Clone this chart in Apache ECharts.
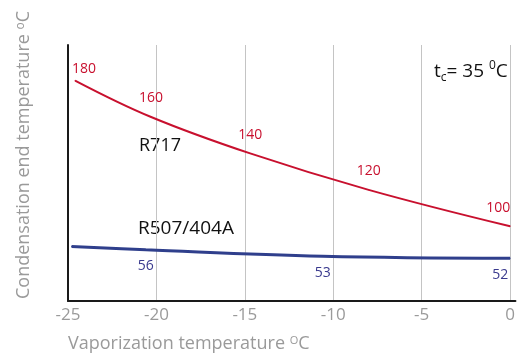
<!DOCTYPE html>
<html>
<head>
<meta charset="utf-8">
<script src="https://cdn.jsdelivr.net/npm/echarts@6/dist/echarts.min.js"></script>
<style>
  html, body { margin: 0; padding: 0; background: #fff; }
  #chart { width: 518px; height: 356px; }
</style>
</head>
<body>
<div id="chart"></div>
<script>
// Vaporization temperature axis (°C); the axis line runs a little past 0
const xTicks = [-25, -20, -15, -10, -5, 0];
const xAxisEnd = 0.3;

// R717 (ammonia): condensation end temperature along the curve
const r717X = [-24.6, -20.3, -14.7, -8.0, 0];
const r717Values = [180, 160, 140, 120, 100];

// R507/404A
const r507X = [-24.8, -20.6, -10.6, 0];
const r507Values = [57.6, 56, 53, 52];
const r507Labelled = [false, true, true, true];

const RED = '#c8102e';
const BLUE = '#2f3f8c';
const BLUE_TEXT = '#3a3a8e';
const GRAY = '#9a9a9a';
const FONT = '"Open Sans", "Noto Sans", sans-serif';

const redData = r717X.map((x, i) => {
  const item = { value: [x, r717Values[i]] };
  if (i === 0) item.label = { show: true, position: 'top', distance: 4, offset: [9, 0] };
  if (i === r717X.length - 1) item.label = { show: true, position: 'top', distance: 11, offset: [-12, 0] };
  return item;
});

const blueData = r507X.map((x, i) => ({
  value: [x, r507Values[i]],
  label: { show: r507Labelled[i], offset: i === r507X.length - 1 ? [-10, 0] : [0, 0] }
}));

const chart = echarts.init(document.getElementById('chart'));
chart.setOption({
  animation: false,
  backgroundColor: '#fff',
  grid: { left: 68, right: 0, top: 45, bottom: 55, containLabel: false },
  xAxis: {
    type: 'value',
    min: xTicks[0],
    max: xAxisEnd,
    interval: 5,
    axisLine: { show: true, lineStyle: { color: '#1a1a1a', width: 2 } },
    axisTick: { show: false },
    axisLabel: {
      color: GRAY, fontFamily: FONT, fontSize: 17, margin: 6,
      showMaxLabel: false,
      formatter: v => (xTicks.indexOf(v) >= 0 ? String(v) : '')
    },
    splitLine: { show: true, showMaxLine: false, lineStyle: { color: '#c4c4c4', width: 1, type: 'solid' } }
  },
  yAxis: [
    {
      type: 'value', min: 59, max: 199.5,
      axisLine: { show: true, onZero: false, lineStyle: { color: '#1a1a1a', width: 2 } },
      axisTick: { show: false }, axisLabel: { show: false }, splitLine: { show: false }
    },
    {
      type: 'value', min: 32, max: 152, position: 'left',
      axisLine: { show: false }, axisTick: { show: false },
      axisLabel: { show: false }, splitLine: { show: false }
    }
  ],
  series: [
    {
      name: 'R717', type: 'line', yAxisIndex: 0, smooth: 0.4,
      data: redData, showSymbol: true, showAllSymbol: true, symbol: 'circle', symbolSize: 1,
      itemStyle: { color: RED },
      lineStyle: { color: RED, width: 2 },
      label: {
        show: true, position: 'top', distance: 11,
        color: RED, fontFamily: FONT, fontSize: 14,
        formatter: p => String(p.value[1])
      }
    },
    {
      name: 'R507/404A', type: 'line', yAxisIndex: 1, smooth: 0.4,
      data: blueData, showSymbol: true, showAllSymbol: true, symbol: 'circle', symbolSize: 1,
      itemStyle: { color: BLUE },
      lineStyle: { color: BLUE, width: 3 },
      label: {
        position: 'bottom', distance: 9,
        color: BLUE_TEXT, fontFamily: FONT, fontSize: 14,
        formatter: p => String(p.value[1])
      }
    }
  ],
  graphic: [
    {
      type: 'text', left: 68, top: 335,
      style: {
        text: 'Vaporization temperature {sup|O}C',
        fill: GRAY, font: '18px ' + FONT,
        rich: { sup: { fontSize: 11, fill: GRAY, fontFamily: FONT, verticalAlign: 'top', lineHeight: 18 } }
      }
    },
    {
      type: 'text', x: 15, y: 299, rotation: Math.PI / 2,
      style: {
        text: 'Condensation end temperature {sup|o}C',
        fill: GRAY, font: '18px ' + FONT,
        rich: { sup: { fontSize: 12, fill: GRAY, fontFamily: FONT, verticalAlign: 'top', lineHeight: 18 } }
      }
    },
    {
      type: 'text', left: 434, top: 60,
      style: {
        text: 't{sub|c}= 35 {sup|0}C',
        fill: '#111', font: '19px ' + FONT,
        rich: {
          sub: { fontSize: 12, fill: '#111', fontFamily: FONT, verticalAlign: 'bottom', lineHeight: 24 },
          sup: { fontSize: 12, fill: '#111', fontFamily: FONT, verticalAlign: 'top', lineHeight: 24 }
        }
      }
    },
    {
      type: 'text', left: 139, top: 137,
      style: { text: 'R717', fill: '#111', font: '18px ' + FONT }
    },
    {
      type: 'text', left: 138, top: 219,
      style: { text: 'R507/404A', fill: '#111', font: '19px ' + FONT }
    }
  ]
});
</script>
</body>
</html>
